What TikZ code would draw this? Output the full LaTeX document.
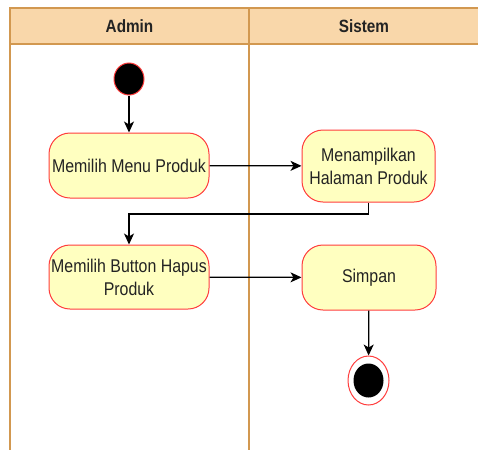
\documentclass[tikz,border=0pt]{standalone}
\usepackage{fontspec}
\setmainfont{Liberation Sans}
\usetikzlibrary{arrows.meta,shapes.geometric}
\definecolor{laneFill}{RGB}{249,215,170}
\definecolor{laneLine}{RGB}{210,152,80}
\definecolor{actFill}{RGB}{255,255,192}
\definecolor{actLine}{RGB}{255,60,60}
\definecolor{txt}{RGB}{35,35,35}
\newcommand{\tall}[1]{\scalebox{1}[1.16]{#1}}
\tikzset{
  activity/.style={draw=actLine, line width=1pt, fill=actFill, rounded corners=21pt,
    text=txt, align=center, inner sep=0pt, font=\fontsize{15.9}{23}\selectfont},
  startnode/.style={ellipse, draw=actLine, line width=1pt, fill=black, inner sep=0pt},
  flow/.style={draw=black, line width=1.2pt, -{Stealth[length=11pt,width=10pt,inset=3pt]}},
  lane/.style={draw=laneLine, line width=1.5pt},
  header/.style={font=\bfseries\fontsize{15.3}{17}\selectfont, text=txt}
}
\begin{document}
\begin{tikzpicture}[x=1pt,y=-1pt]
  \useasboundingbox (0,0) rectangle (478,450);
  % swimlane header and borders
  \fill[laneFill] (10,8) rectangle (485,44);
  \draw[lane] (485,8) -- (10,8) -- (10,450);
  \draw[lane] (10,44) -- (485,44);
  \draw[lane] (249,8) -- (249,450);
  \node[header] (hAdmin) at (129.5,26) {\tall{Admin}};
  \node[header] (hSistem) at (364,26) {\tall{Sistem}};
  % activities
  \node[startnode, minimum width=30pt, minimum height=32pt] (start) at (129,79) {};
  \node[activity, minimum width=160pt, minimum height=65pt] (menu) at (129,165.5) {\tall{Memilih Menu Produk}};
  \node[activity, minimum width=133pt, minimum height=72pt] (tampil) at (368.5,166) {\tall{Menampilkan}\\\tall{Halaman Produk}};
  \node[activity, minimum width=160pt, minimum height=64pt] (hapus) at (129,277) {\tall{Memilih Button Hapus}\\\tall{Produk}};
  \node[activity, minimum width=134pt, minimum height=65pt] (simpan) at (369,277.5) {\tall{Simpan}};
  \node[ellipse, draw=actLine, line width=1pt, fill=white, minimum width=41pt, minimum height=49pt, inner sep=0pt] (end) at (368.5,380.5) {};
  \node[ellipse, fill=black, minimum width=30pt, minimum height=34pt, inner sep=0pt] (endDot) at (end.center) {};
  % flows
  \draw[flow] (start) -- (menu);
  \draw[flow] (menu) -- (tampil);
  \coordinate (turn) at (0,214);
  \draw[flow] (tampil.south) -- (tampil.south |- turn) -- (hapus.north |- turn) -- (hapus.north);
  \draw[flow] (hapus) -- (simpan);
  \draw[flow] (simpan) -- (end);
\end{tikzpicture}
\end{document}
